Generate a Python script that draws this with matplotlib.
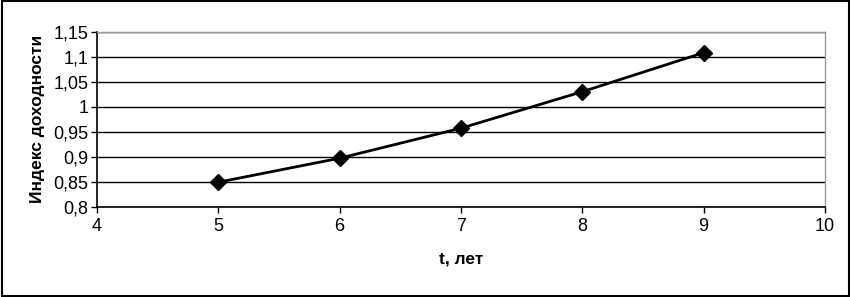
import matplotlib
matplotlib.use("Agg")
import matplotlib.pyplot as plt
import matplotlib.patches as mpatches
from matplotlib.ticker import FuncFormatter, MultipleLocator

plt.rcParams["font.family"] = ["Liberation Sans", "DejaVu Sans"]

# ── Data ──────────────────────────────────────────────────────────────────────
t_years = [5, 6, 7, 8, 9]
index_pi = [0.849, 0.897, 0.957, 1.030, 1.108]

fig = plt.figure(figsize=(8.52, 2.97), dpi=100)
fig.patch.set_facecolor("white")
ax = fig.add_axes([0.1138, 0.304, 0.9683 - 0.1138, 0.8933 - 0.304])

ax.plot(t_years, index_pi, color="black", linewidth=2.0, marker="D",
        markersize=8, markerfacecolor="black", markeredgecolor="black", zorder=3)

ax.set_xlim(4, 10)
ax.set_ylim(0.8, 1.15)
ax.xaxis.set_major_locator(MultipleLocator(1))
ax.yaxis.set_major_locator(MultipleLocator(0.05))

comma = FuncFormatter(lambda v, _: f"{v:.2f}".rstrip("0").rstrip(".").replace(".", ","))
ax.yaxis.set_major_formatter(comma)
ax.xaxis.set_major_formatter(FuncFormatter(lambda v, _: f"{v:.0f}"))

ax.grid(axis="y", color="black", linewidth=1.0, zorder=1)
ax.tick_params(axis="both", direction="out", length=4, width=1,
               labelsize=13, color="black")
ax.tick_params(axis="y", pad=2)
ax.tick_params(axis="x", pad=4)

for side in ("left", "bottom"):
    ax.spines[side].set_color("black")
    ax.spines[side].set_linewidth(1.2)
for side in ("top", "right"):
    ax.spines[side].set_color("#999999")
    ax.spines[side].set_linewidth(1.0)

ax.set_xlabel("t, лет", fontsize=12.5, fontweight="bold", labelpad=12)
ax.set_ylabel("Индекс доходности", fontsize=12.5, fontweight="bold", labelpad=6)

# outer frame around the chart
fig.patches.append(mpatches.Rectangle((0.002, 0.004), 0.995, 0.992,
                                      transform=fig.transFigure, fill=False,
                                      edgecolor="black", linewidth=1.5))

fig.savefig("out.png", dpi=100)
